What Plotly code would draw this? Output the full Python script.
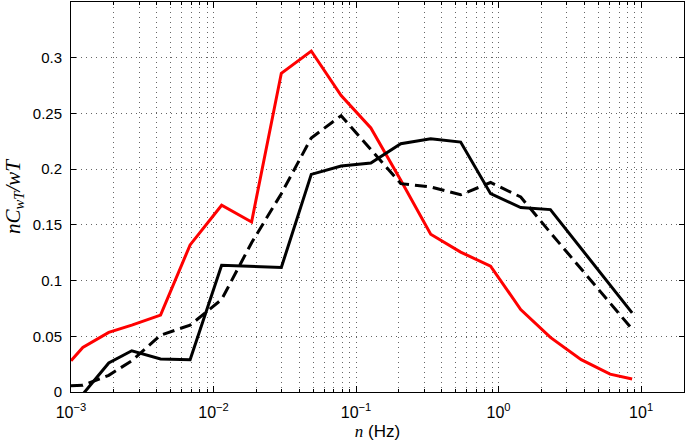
import plotly.graph_objects as go

# frequency (Hz) of each spectral estimate
freq = [0.001, 0.00121, 0.00184, 0.00267, 0.00425, 0.00685, 0.0114, 0.0185,
        0.0299, 0.0485, 0.0786, 0.127, 0.206, 0.334, 0.542, 0.879, 1.43,
        2.31, 3.80, 6.06, 8.65]

# normalised cospectra nC_wT / wT
red_curve = [0.028, 0.040, 0.0535, 0.060, 0.069, 0.132, 0.1676, 0.1526,
             0.286, 0.306, 0.266, 0.237, 0.190, 0.1416, 0.1255, 0.113,
             0.074, 0.049, 0.029, 0.016, 0.0116]
solid_curve = [-0.012, -0.002, 0.026, 0.037, 0.0296, 0.029, 0.1138, 0.113,
               0.1117, 0.1953, 0.2028, 0.2055, 0.2228, 0.2273, 0.2243, 0.178,
               0.1655, 0.1637, 0.129, 0.0955, 0.071]
dashed_curve = [0.0055, 0.006, 0.015, 0.028, 0.051, 0.060, 0.083, 0.134,
                0.178, 0.228, 0.248, 0.218, 0.187, 0.184, 0.177, 0.188,
                0.175, 0.143, 0.110, 0.080, 0.0565]

x_major = [0.001, 0.01, 0.1, 1, 10]
x_major_text = ["10<sup>−3</sup>", "10<sup>−2</sup>", "10<sup>−1</sup>",
                "10<sup>0</sup>", "10<sup>1</sup>"]
x_minor = [m * d for d in [0.001, 0.01, 0.1, 1] for m in range(2, 10)]

fig = go.Figure()
fig.add_trace(go.Scatter(x=freq, y=red_curve, mode="lines",
                         line=dict(color="#ff0000", width=3)))
fig.add_trace(go.Scatter(x=freq, y=dashed_curve, mode="lines",
                         line=dict(color="black", width=3, dash="12px,6px")))
fig.add_trace(go.Scatter(x=freq, y=solid_curve, mode="lines",
                         line=dict(color="black", width=3)))

grid = dict(showgrid=True, gridcolor="#666666", gridwidth=1, griddash="1px,4px")

fig.update_layout(
    width=685, height=444,
    margin=dict(l=71, r=1, t=2, b=52),
    paper_bgcolor="white", plot_bgcolor="white",
    showlegend=False,
    font=dict(family="Liberation Sans, Arial", size=15, color="black"),
    xaxis=dict(
        type="log", range=[-3, 1.30103],
        tickvals=x_major, ticktext=x_major_text,
        ticks="inside", ticklen=6, tickcolor="black",
        ticklabelstandoff=6, tickfont=dict(size=16),
        showline=True, linecolor="black", linewidth=1, mirror="ticks",
        zeroline=False,
        minor=dict(tickvals=x_minor, ticks="inside", ticklen=3,
                   tickcolor="black", **grid),
        title=dict(text="<span style='font-family:Liberation Serif'><i>n</i></span> (Hz)",
                   standoff=4, font=dict(size=17)),
        **grid,
    ),
    yaxis=dict(
        range=[0, 0.35], dtick=0.05, tick0=0,
        ticks="inside", ticklen=5, tickcolor="black",
        ticklabelstandoff=5,
        showline=True, linecolor="black", linewidth=1, mirror="ticks",
        zeroline=False,
        title=dict(text="<i>nC</i><sub><i>wT</i></sub><i>/wT</i>",
                   standoff=6,
                   font=dict(family="Liberation Serif", size=21)),
        **grid,
    ),
)

fig.write_html("out.html", config={"displayModeBar": False},
               post_script="document.body.style.margin='0';")
